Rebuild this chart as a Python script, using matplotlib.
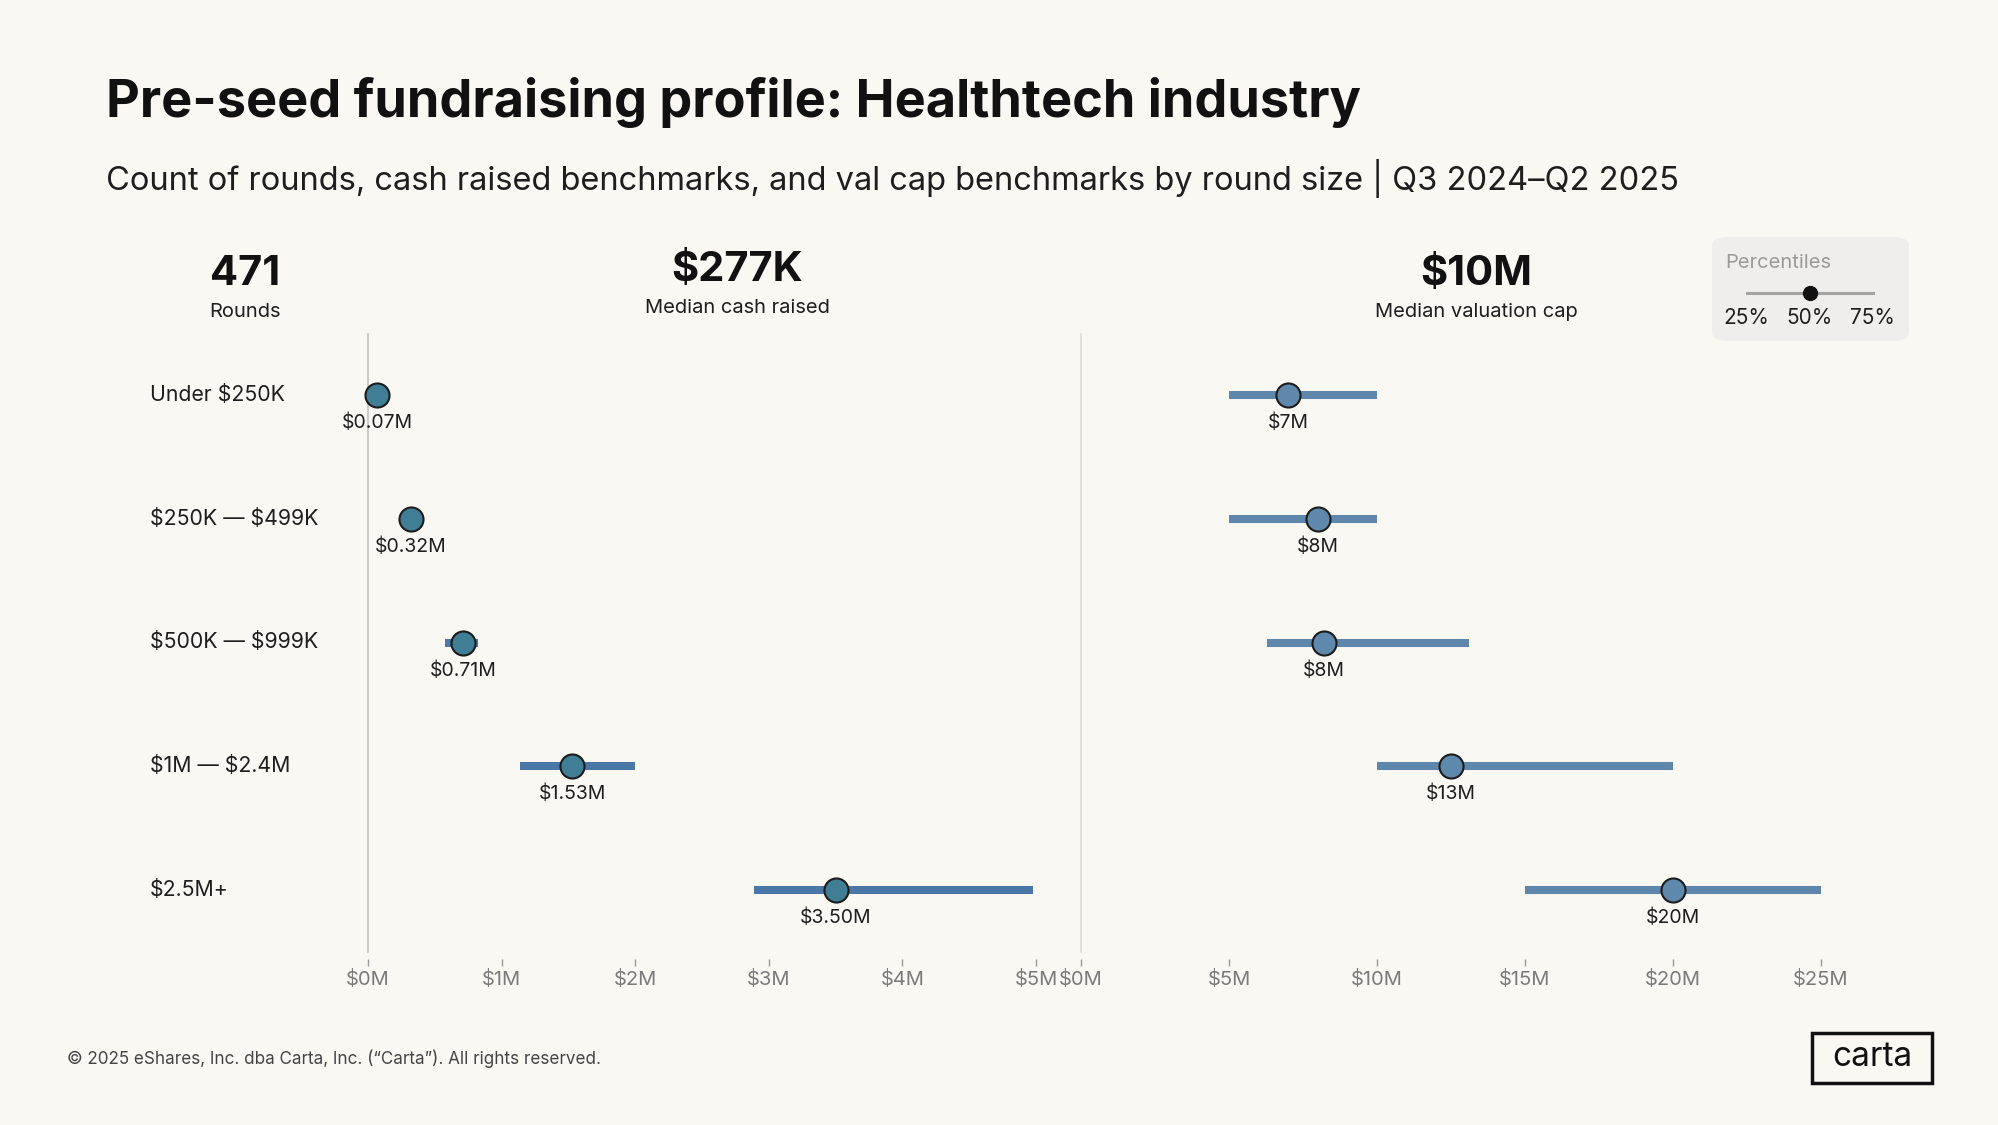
import matplotlib.pyplot as plt
from matplotlib.patches import FancyBboxPatch, Rectangle

# Data
categories = ["Under $250K", "$250K — $499K", "$500K — $999K", "$1M — $2.4M", "$2.5M+"]

cash_p25 = [0.03, 0.27, 0.58, 1.14, 2.89]
cash_med = [0.07, 0.32, 0.71, 1.53, 3.50]
cash_p75 = [0.11, 0.37, 0.82, 2.00, 4.98]
cash_labels = ["$0.07M", "$0.32M", "$0.71M", "$1.53M", "$3.50M"]

cap_p25 = [5, 5, 6.3, 10, 15]
cap_med = [7, 8, 8.2, 12.5, 20]
cap_p75 = [10, 10, 13.1, 20, 25]
cap_labels = ["$7M", "$8M", "$8M", "$13M", "$20M"]

cash_ticks = [0, 1, 2, 3, 4, 5]
cap_ticks = [0, 5, 10, 15, 20, 25]

BG = "#faf8f3"
W, H = 1999, 1125

plt.rcParams['font.family'] = ['Inter', 'DejaVu Sans']

fig = plt.figure(figsize=(W / 100, H / 100), dpi=100, facecolor=BG)


def fx(x):
    return x / W


def fy(y):
    return 1 - y / H


def px_axes(left, top, right, bottom):
    return fig.add_axes([fx(left), fy(bottom), (right - left) / W, (bottom - top) / H])


def label(x, y, s, **kw):
    # plain text, no mathtext for the dollar signs
    return fig.text(fx(x), fy(y), s, parse_math=False, **kw)


# rows sit at y = 395 .. 890 px, axes run from 334 to 959 px
row_top, row_bot = 395, 890
unit = (row_bot - row_top) / 4
ylim = (4 + (959 - row_bot) / unit, -(row_top - 334) / unit)


def panel(ax, p25, med, p75, labels, ticks, xmax, dot_c, bar_c, spine_c):
    ax.set_facecolor("none")
    ys = list(range(len(med)))
    ax.hlines(ys, p25, p75, color=bar_c, linewidth=5.8, capstyle='butt', zorder=2)
    ax.scatter(med, ys, s=300, color=dot_c, edgecolor="#1c1c1c", linewidth=1.5, zorder=3, clip_on=False)
    for x, y, lab in zip(med, ys, labels):
        ax.annotate(lab, (x, y), xytext=(0, -20), textcoords='offset points',
                    ha='center', va='center', fontsize=14, color="#1e1e1e", annotation_clip=False)
    ax.set_xlim(0, xmax)
    ax.set_ylim(*ylim)
    ax.set_yticks([])
    ax.set_xticks(ticks)
    ax.set_xticklabels([f"${t}M" for t in ticks])
    ax.tick_params(axis='x', length=5, width=1, color="#9a9a9a", labelcolor="#7a7a7a",
                   labelsize=14.5, pad=3)
    for s in ['top', 'right', 'bottom']:
        ax.spines[s].set_visible(False)
    ax.spines['left'].set_color(spine_c)
    ax.spines['left'].set_linewidth(1.2)
    ax.spines['left'].set_bounds(ylim[0] - 0.06, ylim[1])


ax1 = px_axes(368, 334, 1036, 959)
panel(ax1, cash_p25, cash_med, cash_p75, cash_labels, cash_ticks, 5,
      "#3f7e95", "#4a77a6", "#c4c4c4")

ax2 = px_axes(1081, 334, 1821, 959)
panel(ax2, cap_p25, cap_med, cap_p75, cap_labels, cap_ticks, 25,
      "#5f88ad", "#5e87ab", "#dedad3")

# row labels
for i, c in enumerate(categories):
    label(150, row_top + i * unit, c, ha='left', va='center', fontsize=15.3, color="#1e1e1e")

# title and subtitle
label(106, 102, "Pre-seed fundraising profile: Healthtech industry",
      ha='left', va='center', fontsize=37.6, fontweight='bold', color="#111111")
label(106, 178, "Count of rounds, cash raised benchmarks, and val cap benchmarks by round size | Q3 2024\u2013Q2 2025",
      ha='left', va='center', fontsize=23.5, color="#1e1e1e")

# headline numbers
heads = [(245, 274, "471", "Rounds"), (737, 270, "$277K", "Median cash raised"),
         (1476, 274, "$10M", "Median valuation cap")]
for x, yb, big, small in heads:
    label(x, yb, big, ha='center', va='center', fontsize=30, fontweight='bold', color="#111111")
    label(x, yb + 38, small, ha='center', va='center', fontsize=14.5, color="#1e1e1e")

# percentiles key
fig.patches.append(FancyBboxPatch((fx(1712), fy(341)), (1909 - 1712) / W, (341 - 237) / H,
                                  boxstyle="round,pad=0,rounding_size=0.008",
                                  transform=fig.transFigure, facecolor="#efeeec", edgecolor="none"))
label(1725, 263, "Percentiles", ha='left', va='center', fontsize=14.5, color="#9a9a9a")
fig.lines.append(plt.Line2D([fx(1747), fx(1873)], [fy(293), fy(293)], transform=fig.transFigure,
                            color="#a3a3a3", linewidth=2.2))
fig.lines.append(plt.Line2D([fx(1810)], [fy(293)], transform=fig.transFigure, marker='o',
                            markersize=10, color="#111111", linestyle='none'))
for x, t in [(1746, "25%"), (1810, "50%"), (1872, "75%")]:
    label(x, 318, t, ha='center', va='center', fontsize=15, color="#1e1e1e")

# footer
label(67, 1059, "\u00a9 2025 eShares, Inc. dba Carta, Inc. (\u201cCarta\u201d). All rights reserved.",
      ha='left', va='center', fontsize=12.3, color="#444444")
fig.patches.append(Rectangle((fx(1812), fy(1083)), (1932 - 1812) / W, (1083 - 1033) / H,
                             transform=fig.transFigure, facecolor="none", edgecolor="#111111", linewidth=2.5))
label(1872, 1057, "carta", ha='center', va='center', fontsize=24, color="#111111")

fig.savefig("out.png", dpi=100, facecolor=BG)
